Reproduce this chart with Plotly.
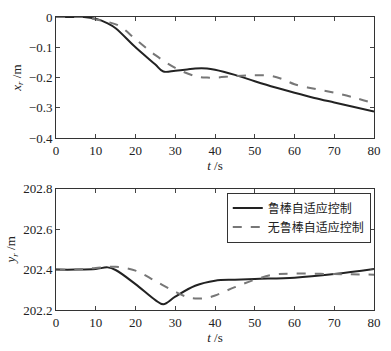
import plotly.graph_objects as go

t_solid_x = [0, 5, 7, 10, 13, 15, 20, 25, 27, 30, 33, 35, 38, 40, 45, 50, 55, 60, 65, 70, 75, 80]
x_solid = [0, 0, 0, -0.006, -0.021, -0.037, -0.1, -0.157, -0.18, -0.177, -0.173, -0.17, -0.17, -0.174, -0.191, -0.212, -0.232, -0.25, -0.267, -0.282, -0.297, -0.312]
t_dash_x = [0, 5, 7, 10, 13, 16, 20, 25, 30, 35, 38, 40, 45, 50, 54, 57, 60, 65, 70, 75, 80]
x_dash = [0, 0, 0, -0.008, -0.016, -0.03, -0.073, -0.126, -0.168, -0.195, -0.2, -0.2, -0.195, -0.192, -0.194, -0.205, -0.222, -0.237, -0.25, -0.266, -0.285]

t_solid_y = [0, 5, 10, 13, 15, 20, 25, 27, 30, 35, 40, 45, 50, 60, 70, 80]
y_solid = [202.4, 202.4, 202.403, 202.411, 202.398, 202.328, 202.249, 202.228, 202.266, 202.32, 202.345, 202.35, 202.354, 202.36, 202.378, 202.403]
t_dash_y = [0, 5, 10, 15, 20, 25, 30, 33, 35, 38, 40, 45, 50, 55, 60, 70, 80]
y_dash = [202.4, 202.4, 202.408, 202.414, 202.395, 202.343, 202.29, 202.264, 202.257, 202.26, 202.272, 202.313, 202.35, 202.376, 202.38, 202.378, 202.375]

name_solid = "鲁棒自适应控制"
name_dash = "无鲁棒自适应控制"

fig = go.Figure()
fig.add_trace(go.Scatter(x=t_solid_x, y=x_solid, mode="lines", line=dict(color="#222222", width=2, shape="spline"), showlegend=False, xaxis="x", yaxis="y"))
fig.add_trace(go.Scatter(x=t_dash_x, y=x_dash, mode="lines", line=dict(color="#777777", width=2, dash="dash", shape="spline"), showlegend=False, xaxis="x", yaxis="y"))
fig.add_trace(go.Scatter(x=t_solid_y, y=y_solid, mode="lines", name=name_solid, line=dict(color="#222222", width=2, shape="spline"), xaxis="x2", yaxis="y2"))
fig.add_trace(go.Scatter(x=t_dash_y, y=y_dash, mode="lines", name=name_dash, line=dict(color="#777777", width=2, dash="dash", shape="spline"), xaxis="x2", yaxis="y2"))

font_serif = dict(family="Times New Roman, serif", size=13, color="#222222")
common_x = dict(range=[0, 80], tickvals=[0, 10, 20, 30, 40, 50, 60, 70, 80], ticks="inside", ticklen=4,
                showline=True, linecolor="#333333", linewidth=1, mirror="ticks", showgrid=False, zeroline=False,
                tickfont=font_serif, title=dict(text="<i>t</i> /s", font=font_serif, standoff=2))
common_y = dict(ticks="inside", ticklen=4, showline=True, linecolor="#333333", linewidth=1, mirror="ticks",
                showgrid=False, zeroline=False, tickfont=font_serif)

fig.update_layout(
    width=391, height=351,
    margin=dict(l=53, r=14, t=10, b=34),
    paper_bgcolor="white", plot_bgcolor="white",
    font=font_serif,
    xaxis=dict(domain=[0, 1], anchor="y", **common_x),
    yaxis=dict(domain=[0.5863, 1], anchor="x", range=[-0.4, 0], tickvals=[0, -0.1, -0.2, -0.3, -0.4],
               ticktext=["0", "−0.1", "−0.2", "−0.3", "−0.4"],
               title=dict(text="<i>x</i><sub><i>r</i></sub> /m", font=font_serif, standoff=4), **common_y),
    xaxis2=dict(domain=[0, 1], anchor="y2", **common_x),
    yaxis2=dict(domain=[0, 0.4137], anchor="x2", range=[202.2, 202.8], tickvals=[202.2, 202.4, 202.6, 202.8],
                ticktext=["202.2", "202.4", "202.6", "202.8"],
                title=dict(text="<i>y</i><sub><i>r</i></sub> /m", font=font_serif, standoff=4), **common_y),
    legend=dict(x=0.537, y=0.4007, xanchor="left", yanchor="top", bgcolor="white",
                bordercolor="#333333", borderwidth=1,
                font=dict(family="Noto Sans CJK SC", size=12, color="#222222"),
                tracegroupgap=0, itemwidth=30),
)

fig.write_html("out.html")
